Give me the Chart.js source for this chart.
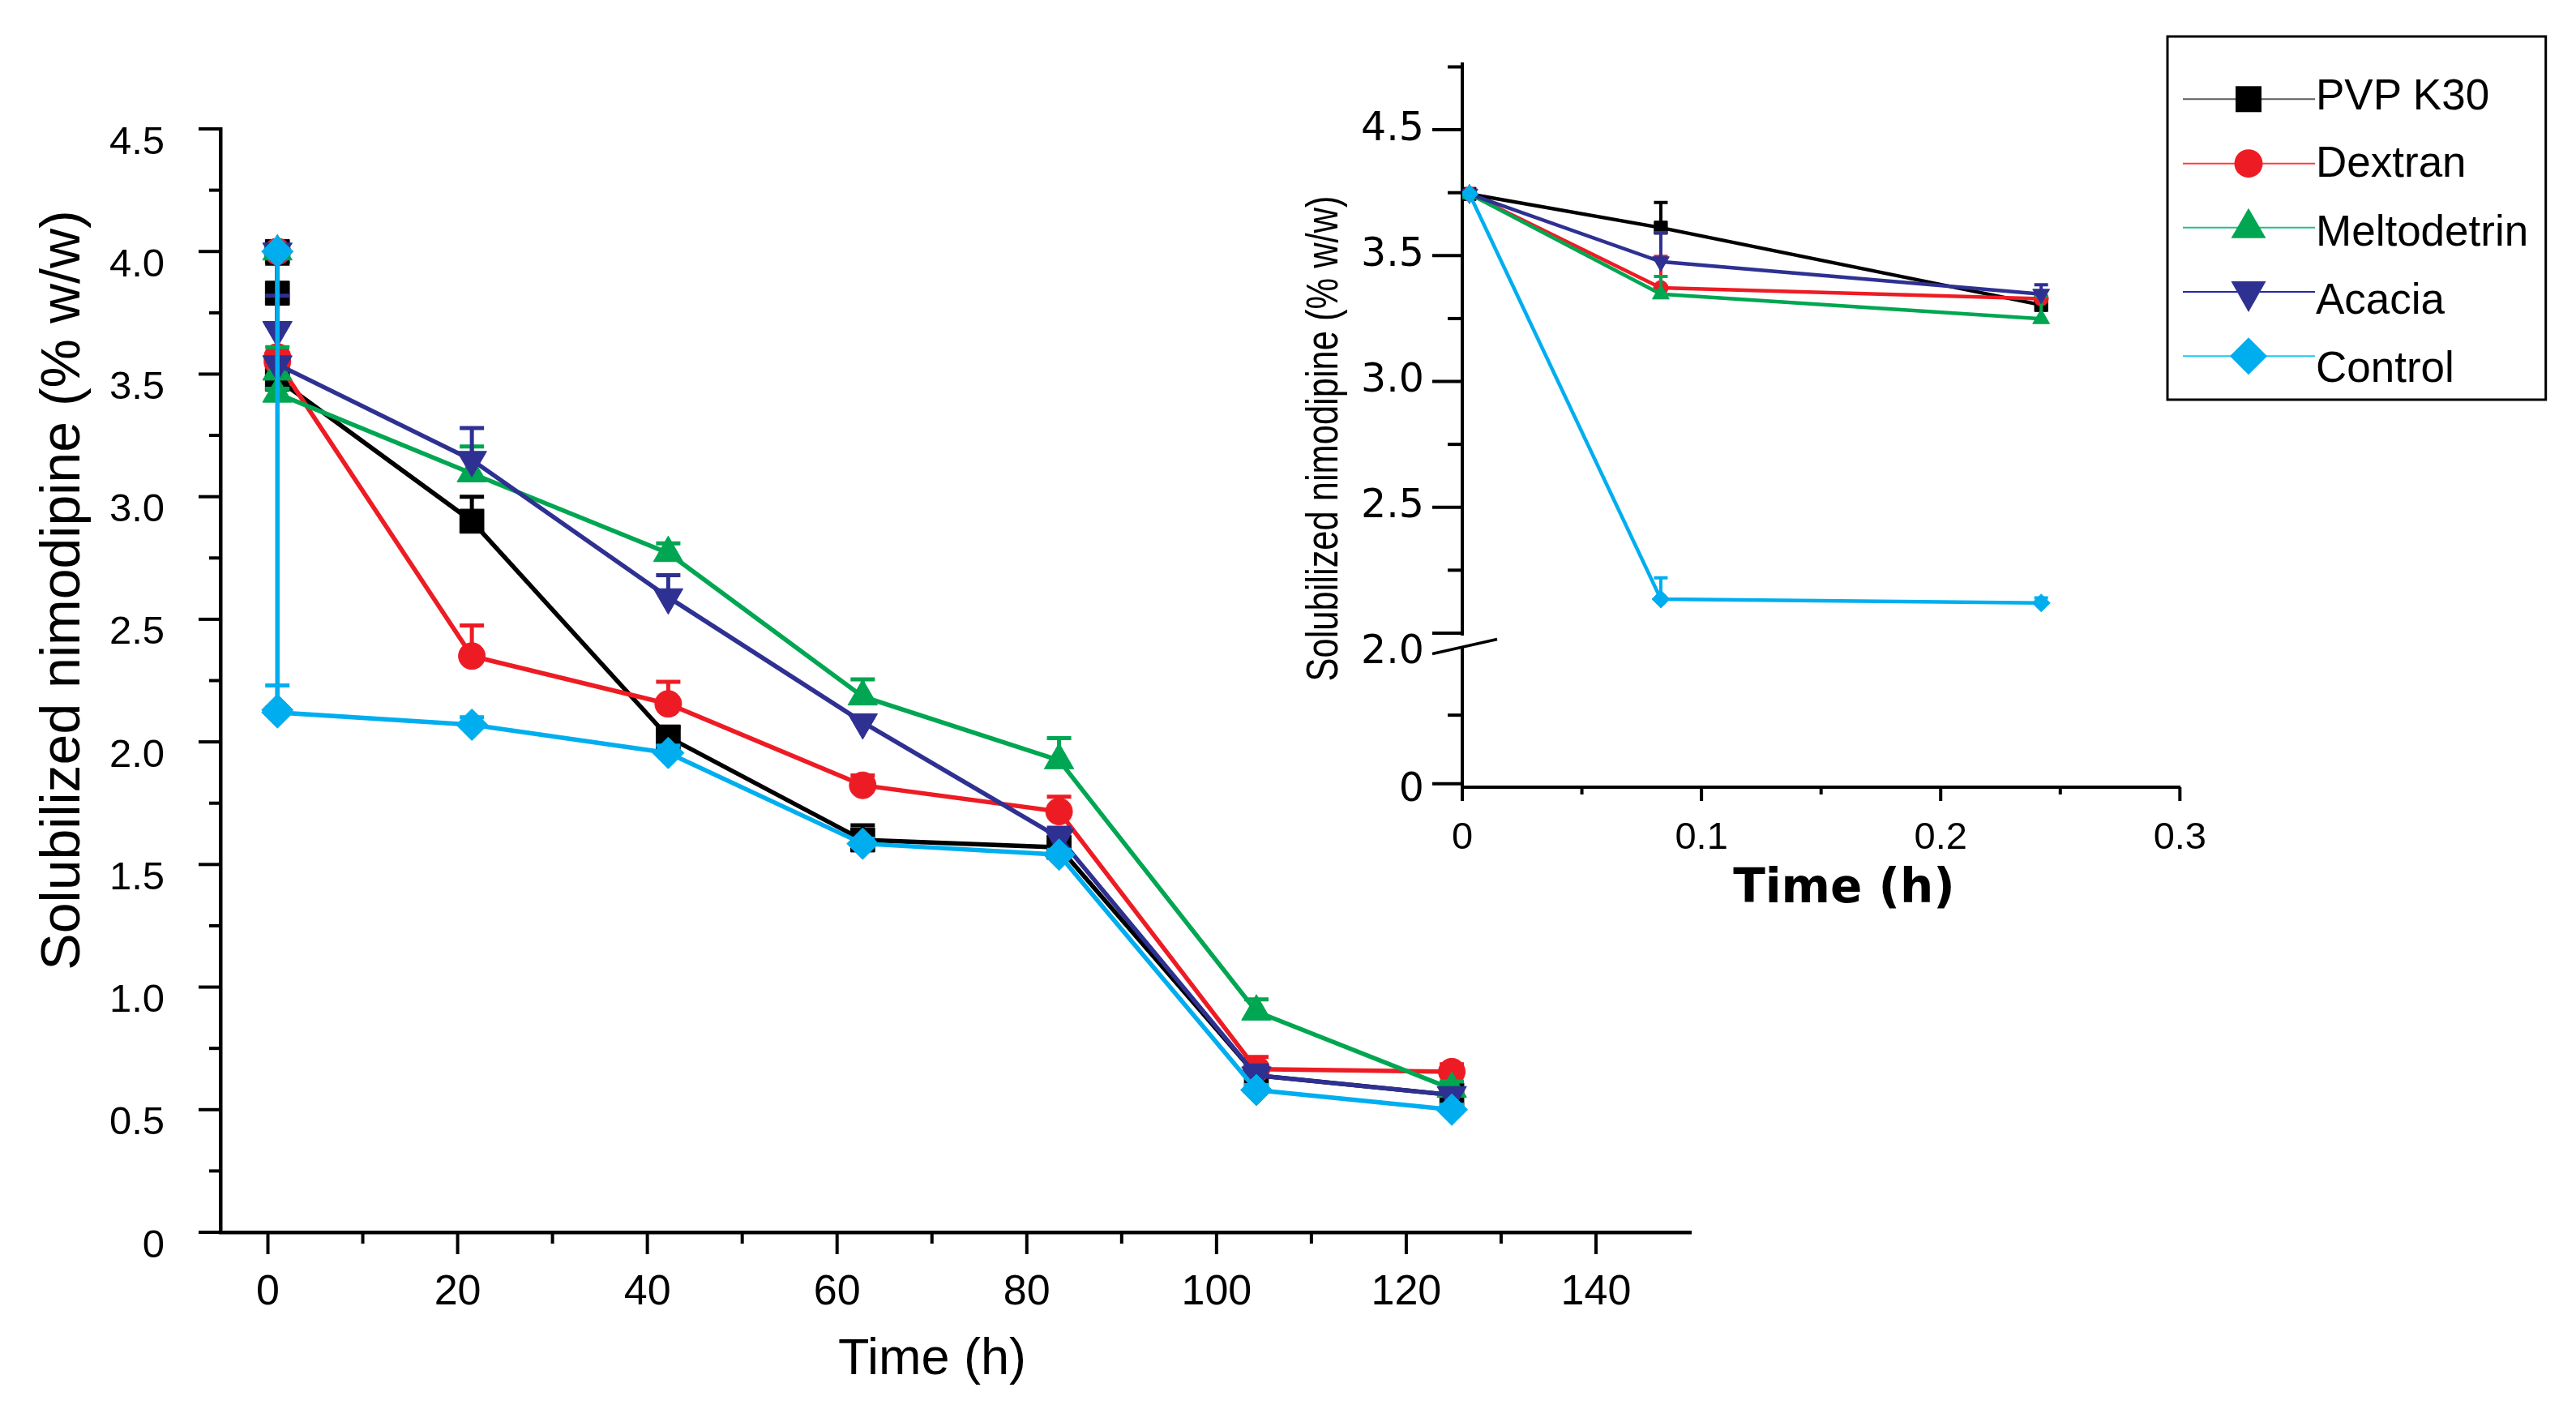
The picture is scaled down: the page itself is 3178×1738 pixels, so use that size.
<!DOCTYPE html>
<html>
<head>
<meta charset="utf-8">
<title>Solubilized nimodipine over time</title>
<script src="https://cdn.jsdelivr.net/npm/chart.js@4.4.1/dist/chart.umd.min.js"></script>
<style>
  html, body { margin: 0; padding: 0; background: #fff; overflow: hidden; }
  #page { position: relative; width: 3178px; height: 1738px; }
  #main-chart { position: absolute; left: 0; top: 0; }
  #inset-chart { position: absolute; left: 1560px; top: 40px; }
  #legend { position: absolute; left: 2660px; top: 30px; }
</style>
</head>
<body>
<div id="page">
  <canvas id="main-chart" width="3178" height="1738"></canvas>
  <canvas id="inset-chart" width="1180" height="1100"></canvas>
  <svg id="legend" width="500" height="480" xmlns="http://www.w3.org/2000/svg"></svg>
</div>
<script>
// series
const seriesNames = ['PVP K30', 'Dextran', 'Meltodetrin', 'Acacia', 'Control'];
const seriesColors = ['#000000', '#ed1c24', '#00a651', '#2e3192', '#00aeef'];
const legendLineColors = ['#5c5c5c', '#ff3b3b', '#1fc08e', '#2626a8', '#1ec8f2'];
const seriesMarkers = ['rect', 'circle', 'triangle', 'triangle', 'rectRot'];
const markerRotation = [0, 0, 0, 180, 0];

// main chart (time in h) - first three points sit together near t = 1
const mainTimes = [1, 1, 1, 21.5, 42.2, 62.7, 83.4, 104.2, 124.8];
const mainPvp     = [4.0, 3.83, 3.48, 2.90, 2.02, 1.60, 1.57, 0.64, 0.56];
const mainDextran = [4.0, 3.57, 3.55, 2.35, 2.155, 1.823, 1.716, 0.665, 0.655];
const mainMelto   = [4.0, 3.51, 3.42, 3.095, 2.77, 2.185, 1.925, 0.90, 0.585];
const mainAcacia  = [4.0, 3.68, 3.54, 3.15, 2.59, 2.08, 1.61, 0.64, 0.56];
const mainControl = [4.0, 2.13, 2.12, 2.07, 1.955, 1.585, 1.54, 0.58, 0.50];
const mainPvpErr     = [0, 0.12, 0.02, 0.10, 0.04, 0.06, 0.02, 0.03, 0.02];
const mainDextranErr = [0, 0.13, 0.02, 0.125, 0.09, 0.04, 0.06, 0.05, 0.03];
const mainMeltoErr   = [0, 0.10, 0.02, 0.11, 0.04, 0.07, 0.09, 0.05, 0.03];
const mainAcaciaErr  = [0, 0.14, 0.02, 0.13, 0.09, 0.02, 0.04, 0.04, 0.02];
const mainControlErr = [0, 0.10, 0.02, 0.03, 0.03, 0.02, 0.02, 0.02, 0.02];

// inset (first 15 min), values in the inset's own axis units
const insetTimes = [0.003, 0.083, 0.242];
const insetPvp     = [3.745, 3.611, 3.304];
const insetDextran = [3.745, 3.372, 3.329];
const insetMelto   = [3.745, 3.347, 3.249];
const insetAcacia  = [3.745, 3.476, 3.347];
const insetControl = [3.745, 2.135, 2.12];
const insetPvpErr     = [0, 0.10, 0.02];
const insetDextranErr = [0, 0.125, 0.03];
const insetMeltoErr   = [0, 0.07, 0.09];
const insetAcaciaErr  = [0, 0.115, 0.037];
const insetControlErr = [0, 0.085, 0.02];

// ticks
const mainXTicks  = [0, 10, 20, 30, 40, 50, 60, 70, 80, 90, 100, 110, 120, 130, 140];
const mainXLabels = ['0', '', '20', '', '40', '', '60', '', '80', '', '100', '', '120', '', '140'];
const mainYTicks  = [0, 0.25, 0.5, 0.75, 1, 1.25, 1.5, 1.75, 2, 2.25, 2.5, 2.75, 3, 3.25, 3.5, 3.75, 4, 4.25, 4.5];
const mainYLabels = ['0', '', '0.5', '', '1.0', '', '1.5', '', '2.0', '', '2.5', '', '3.0', '', '3.5', '', '4.0', '', '4.5'];
const insetXTicks  = [0, 0.05, 0.1, 0.15, 0.2, 0.25, 0.3];
const insetXLabels = ['0', '', '0.1', '', '0.2', '', '0.3'];
const insetTopTicks  = [2.0, 2.25, 2.5, 2.75, 3.0, 3.25, 3.5, 3.75, 4.0, 4.25];
const insetTopLabels = [' ', '', '2.5', '', '3.0', '', '3.5', '', '4.5', ''];
const insetBottomTicks  = [0, 1, 2];
const insetBottomLabels = ['0', '', '2.0'];

const yTitle = 'Solubilized nimodipine (% w/w)';
const xTitle = 'Time (h)';

const mainValues = [mainPvp, mainDextran, mainMelto, mainAcacia, mainControl];
const mainErrors = [mainPvpErr, mainDextranErr, mainMeltoErr, mainAcaciaErr, mainControlErr];
const insetValues = [insetPvp, insetDextran, insetMelto, insetAcacia, insetControl];
const insetErrors = [insetPvpErr, insetDextranErr, insetMeltoErr, insetAcaciaErr, insetControlErr];

const mainRadius = [21, 16.5, 21, 21, 19.5];
const insetRadius = [11.5, 9, 12, 12, 11];

const SANS = '"Liberation Sans", Arial, sans-serif';
const DEJAVU = '"DejaVu Sans", sans-serif';

// draws the visible tick marks (major/minor lengths differ)
const tickMarks = {
    id: 'tickMarks',
    afterDraw(chart, args, opts) {
        const ctx = chart.ctx;
        ctx.save();
        ctx.strokeStyle = '#000';
        Object.values(chart.scales).forEach(scale => {
            const conf = opts[scale.id];
            if (!conf) return;
            ctx.lineWidth = conf.width;
            scale.ticks.forEach(tick => {
                if (conf.skip && conf.skip.includes(tick.value)) return;
                const p = scale.getPixelForValue(tick.value);
                const len = tick.label !== '' ? conf.major : conf.minor;
                ctx.beginPath();
                if (scale.isHorizontal()) {
                    ctx.moveTo(p, scale.top);
                    ctx.lineTo(p, scale.top + len);
                } else {
                    ctx.moveTo(scale.right, p);
                    ctx.lineTo(scale.right - len, p);
                }
                ctx.stroke();
            });
        });
        ctx.restore();
    }
};

// vertical error bars (upper side only) with a cap
const errorBars = {
    id: 'errorBars',
    afterDatasetDraw(chart, args) {
        const ds = chart.data.datasets[args.index];
        if (!ds.errors) return;
        const yScale = chart.scales[args.meta.yAxisID];
        const ctx = chart.ctx;
        const half = ds.capWidth / 2;
        ctx.save();
        ctx.strokeStyle = ds.borderColor;
        ctx.lineWidth = ds.errorWidth;
        args.meta.data.forEach((pt, i) => {
            const err = ds.errors[i];
            if (!err) return;
            const top = yScale.getPixelForValue(ds.data[i].y + err);
            ctx.beginPath();
            ctx.moveTo(pt.x, pt.y);
            ctx.lineTo(pt.x, top);
            ctx.moveTo(pt.x - half, top);
            ctx.lineTo(pt.x + half, top);
            ctx.stroke();
        });
        ctx.restore();
    }
};

// axis titles; squeeze < 1 narrows the text along its own direction
function textPlugin(id, items) {
    return {
        id: id,
        afterDraw(chart) {
            const ctx = chart.ctx;
            items.forEach(it => {
                ctx.save();
                ctx.translate(it.x, it.y);
                if (it.rotate) ctx.rotate(it.rotate);
                if (it.squeeze) ctx.scale(it.squeeze, 1);
                ctx.font = it.font;
                ctx.fillStyle = '#000';
                ctx.textAlign = 'center';
                ctx.textBaseline = 'alphabetic';
                ctx.fillText(it.text, 0, 0);
                ctx.restore();
            });
        }
    };
}

// the break in the inset's y axis
const axisBreak = {
    id: 'axisBreak',
    afterDraw(chart) {
        const ctx = chart.ctx;
        const top = chart.scales.yTop;
        const bot = chart.scales.yBot;
        const x = chart.chartArea.left;
        const cy = bot.getPixelForValue(2);
        ctx.save();
        ctx.fillStyle = '#fff';
        ctx.fillRect(x - 5, top.bottom + 3, 10, cy - top.bottom - 3);
        ctx.strokeStyle = '#000';
        ctx.lineWidth = 3.5;
        ctx.beginPath();
        ctx.moveTo(x - 37, cy + 9);
        ctx.lineTo(x + 43, cy - 9);
        ctx.stroke();
        ctx.restore();
    }
};

function fixedTicks(values) {
    return scale => { scale.ticks = values.map(v => ({ value: v })); };
}

function makeDatasets(times, values, errors, radius, opts) {
    return seriesNames.map((name, s) => ({
        label: name,
        data: times.map((t, i) => ({ x: t, y: values[s][i] })),
        errors: errors[s],
        capWidth: opts.cap,
        errorWidth: opts.errWidth,
        yAxisID: opts.yAxis,
        borderColor: seriesColors[s],
        backgroundColor: seriesColors[s],
        borderWidth: opts.lineWidth,
        pointStyle: seriesMarkers[s],
        pointRotation: markerRotation[s],
        pointRadius: radius[s],
        pointBorderWidth: 1,
        tension: 0,
        order: seriesNames.length - s
    }));
}

function axisStyle(extra) {
    return Object.assign({
        type: 'linear',
        grid: { drawOnChartArea: false, drawTicks: true, tickColor: 'rgba(0,0,0,0)' },
        border: { display: true, color: '#000', width: 4 }
    }, extra);
}

// main chart
new Chart(document.getElementById('main-chart'), {
    type: 'line',
    data: {
        datasets: makeDatasets(mainTimes, mainValues, mainErrors, mainRadius,
            { cap: 30, errWidth: 5, lineWidth: 5.5, yAxis: 'y' })
    },
    options: {
        responsive: false,
        devicePixelRatio: 1,
        animation: false,
        layout: { autoPadding: false, padding: { left: 0, top: 159, right: 1092, bottom: 0 } },
        scales: {
            x: axisStyle({
                min: -5, max: 150,
                afterBuildTicks: fixedTicks(mainXTicks),
                afterFit: s => { s.height = 218; },
                grid: { drawOnChartArea: false, tickLength: 27, tickColor: 'rgba(0,0,0,0)' },
                border: { display: true, color: '#000', width: 4.5 },
                ticks: {
                    autoSkip: false, maxRotation: 0, padding: 16, color: '#000',
                    font: { family: SANS, size: 52 },
                    callback: (v, i) => mainXLabels[i]
                }
            }),
            y: axisStyle({
                min: 0, max: 4.5,
                afterBuildTicks: fixedTicks(mainYTicks),
                afterFit: s => { s.width = 272; },
                grid: { drawOnChartArea: false, tickLength: 27, tickColor: 'rgba(0,0,0,0)' },
                border: { display: true, color: '#000', width: 4.5 },
                ticks: {
                    autoSkip: false, padding: 42, labelOffset: 17, color: '#000',
                    font: { family: SANS, size: 49 },
                    callback: (v, i) => mainYLabels[i]
                }
            })
        },
        plugins: {
            legend: { display: false },
            tooltip: { enabled: false },
            tickMarks: {
                x: { major: 27, minor: 14, width: 4 },
                y: { major: 27, minor: 14, width: 4 }
            }
        }
    },
    plugins: [tickMarks, errorBars, textPlugin('mainTitles', [
        { text: yTitle, x: 98, y: 728, rotate: -Math.PI / 2, font: '68px ' + SANS },
        { text: xTitle, x: 1150, y: 1695, font: '63px ' + SANS }
    ])]
});

// inset chart; left axes are laid out bottom-up, so the lower segment comes first
new Chart(document.getElementById('inset-chart'), {
    type: 'line',
    data: {
        datasets: makeDatasets(insetTimes, insetValues, insetErrors, insetRadius,
            { cap: 17, errWidth: 4, lineWidth: 4.5, yAxis: 'yTop' })
    },
    options: {
        responsive: false,
        devicePixelRatio: 1,
        animation: false,
        layout: { autoPadding: false, padding: { left: 0, top: 35, right: 37, bottom: 0 } },
        scales: {
            x: axisStyle({
                min: 0, max: 0.3,
                afterBuildTicks: fixedTicks(insetXTicks),
                afterFit: s => { s.height = 169; },
                grid: { drawOnChartArea: false, tickLength: 17, tickColor: 'rgba(0,0,0,0)' },
                border: { display: true, color: '#000', width: 4 },
                ticks: {
                    autoSkip: false, maxRotation: 0, padding: 18, color: '#000',
                    font: { family: SANS, size: 47 },
                    callback: (v, i) => insetXLabels[i]
                }
            }),
            yBot: axisStyle({
                position: 'left', stack: 'inset', stackWeight: 191,
                min: -0.05, max: 2.196,
                afterBuildTicks: fixedTicks(insetBottomTicks),
                afterFit: s => { s.width = 244; },
                grid: { drawOnChartArea: false, tickLength: 37, tickColor: 'rgba(0,0,0,0)' },
                border: { display: true, color: '#000', width: 4 },
                ticks: {
                    autoSkip: false, padding: 10, labelOffset: 8, color: '#000',
                    font: { family: DEJAVU, size: 49 },
                    callback: (v, i) => insetBottomLabels[i]
                }
            }),
            yTop: axisStyle({
                position: 'left', stack: 'inset', stackWeight: 705,
                min: 2.0, max: 4.26,
                afterBuildTicks: fixedTicks(insetTopTicks),
                afterFit: s => { s.width = 244; },
                grid: { drawOnChartArea: false, tickLength: 37, tickColor: 'rgba(0,0,0,0)' },
                border: { display: true, color: '#000', width: 4 },
                ticks: {
                    autoSkip: false, padding: 10, color: '#000',
                    font: { family: DEJAVU, size: 49 },
                    callback: (v, i) => insetTopLabels[i]
                }
            })
        },
        plugins: {
            legend: { display: false },
            tooltip: { enabled: false },
            tickMarks: {
                x: { major: 17, minor: 9, width: 4 },
                yTop: { major: 37, minor: 18, width: 4 },
                yBot: { major: 37, minor: 18, width: 4, skip: [2] }
            }
        }
    },
    plugins: [tickMarks, errorBars, axisBreak, textPlugin('insetTitles', [
        { text: yTitle, x: 90, y: 501, rotate: -Math.PI / 2, squeeze: 0.79, font: '55px ' + SANS },
        { text: xTitle, x: 715, y: 1073, font: 'bold 58px ' + DEJAVU }
    ])]
});

// legend box (svg)
const legendRowY = [92.3, 171.7, 250.7, 330, 409.3];
const legendTextY = [105, 188.3, 272.7, 356.7, 440.7];
const legendSvg = document.getElementById('legend');
const NS = 'http://www.w3.org/2000/svg';

function svgEl(tag, attrs) {
    const el = document.createElementNS(NS, tag);
    Object.keys(attrs).forEach(k => el.setAttribute(k, attrs[k]));
    legendSvg.appendChild(el);
    return el;
}

function legendMarker(style, rot, cx, cy, color) {
    if (style === 'rect') {
        svgEl('rect', { x: cx - 16, y: cy - 16, width: 32, height: 32, fill: color });
    } else if (style === 'circle') {
        svgEl('circle', { cx: cx, cy: cy, r: 17.5, fill: color });
    } else if (style === 'triangle') {
        const pts = rot === 180
            ? [[cx - 21.5, cy - 13], [cx + 21.5, cy - 13], [cx, cy + 25]]
            : [[cx, cy - 24], [cx - 21.5, cy + 13], [cx + 21.5, cy + 13]];
        svgEl('polygon', { points: pts.map(p => p.join(',')).join(' '), fill: color });
    } else if (style === 'rectRot') {
        const pts = [[cx, cy - 23], [cx + 23, cy], [cx, cy + 23], [cx - 23, cy]];
        svgEl('polygon', { points: pts.map(p => p.join(',')).join(' '), fill: color });
    }
}

svgEl('rect', { x: 14, y: 15, width: 466.7, height: 448, fill: '#fff', stroke: '#000', 'stroke-width': 3 });
seriesNames.forEach((name, s) => {
    const y = legendRowY[s];
    svgEl('line', { x1: 33, y1: y, x2: 196, y2: y, stroke: legendLineColors[s], 'stroke-width': 2 });
    legendMarker(seriesMarkers[s], markerRotation[s], 114, y, seriesColors[s]);
    const t = svgEl('text', { x: 197, y: legendTextY[s], 'font-family': 'Liberation Sans, Arial, sans-serif', 'font-size': 53, fill: '#000' });
    t.textContent = name;
});
</script>
</body>
</html>
